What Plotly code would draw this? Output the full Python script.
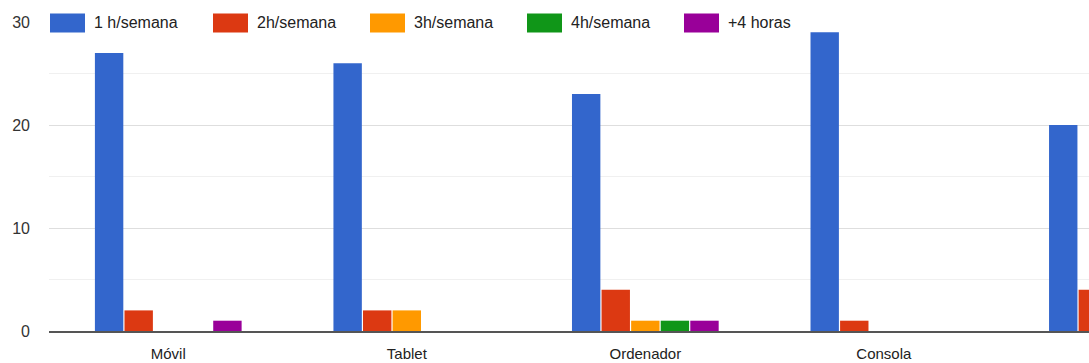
import plotly.graph_objects as go

categories = ["Móvil", "Tablet", "Ordenador", "Consola", "Televisión"]
series_names = ["1 h/semana", "2h/semana", "3h/semana", "4h/semana", "+4 horas"]
v_1h = [27, 26, 23, 29, 20]
v_2h = [2, 2, 4, 1, 4]
v_3h = [0, 2, 1, 0, 0]
v_4h = [0, 0, 1, 0, 0]
v_plus4 = [1, 0, 1, 0, 0]
y_ticks = [0, 10, 20, 30]

series_values = [v_1h, v_2h, v_3h, v_4h, v_plus4]
colors = ["#3366cc", "#dc3912", "#ff9900", "#109618", "#990099"]

FONT = "Liberation Sans, Arial, sans-serif"
W, H = 1089, 363
ML, MR, MT, MB = 49, 0, 22, 32
PW, PH = W - ML - MR, H - MT - MB

fig = go.Figure()
for name, vals, col in zip(series_names, series_values, colors):
    fig.add_trace(go.Bar(x=categories, y=vals, name=name, marker=dict(color=col, line=dict(width=0)),
                         showlegend=False))

# custom legend (swatches + text) at top
legend_px = [50, 213, 370, 527, 684]
def px_x(p):
    return (p - ML) / PW
def px_y(p):
    return (H - MB - p) / PH

shapes = []
annotations = []
for name, col, lx in zip(series_names, colors, legend_px):
    shapes.append(dict(type="rect", xref="paper", yref="paper",
                       x0=px_x(lx), x1=px_x(lx + 35), y0=px_y(32.5), y1=px_y(13.5),
                       fillcolor=col, line=dict(width=0), layer="above"))
    annotations.append(dict(xref="paper", yref="paper", x=px_x(lx + 43), y=px_y(23),
                            xanchor="left", yanchor="middle", text=name, showarrow=False,
                            bgcolor="white", borderpad=0,
                            font=dict(family=FONT, size=16, color="#222")))

fig.update_layout(
    width=W, height=H,
    margin=dict(l=ML, r=MR, t=MT, b=MB),
    paper_bgcolor="white", plot_bgcolor="white",
    barmode="group", bargap=0.38, bargroupgap=0.04,
    font=dict(family=FONT, size=15, color="#222"),
    shapes=shapes, annotations=annotations,
    xaxis=dict(type="category", range=[-0.5, 3.86], showgrid=False, showline=True,
               linecolor="#555", linewidth=1.5, ticks="", ticklabelstandoff=8,
               tickfont=dict(family=FONT, size=15, color="#222")),
    yaxis=dict(range=[0, 30], tickvals=y_ticks, showgrid=True, gridcolor="#dedede", gridwidth=1,
               zeroline=False, showline=False, ticks="", ticklabelstandoff=18,
               tickfont=dict(family=FONT, size=16, color="#333"),
               minor=dict(dtick=5, tick0=0, showgrid=True, gridcolor="#f0f0f0", gridwidth=1)),
)

fig.write_html("out.html", config={"displayModeBar": False},
               post_script="document.body.style.margin='0';document.body.style.overflow='hidden';")
